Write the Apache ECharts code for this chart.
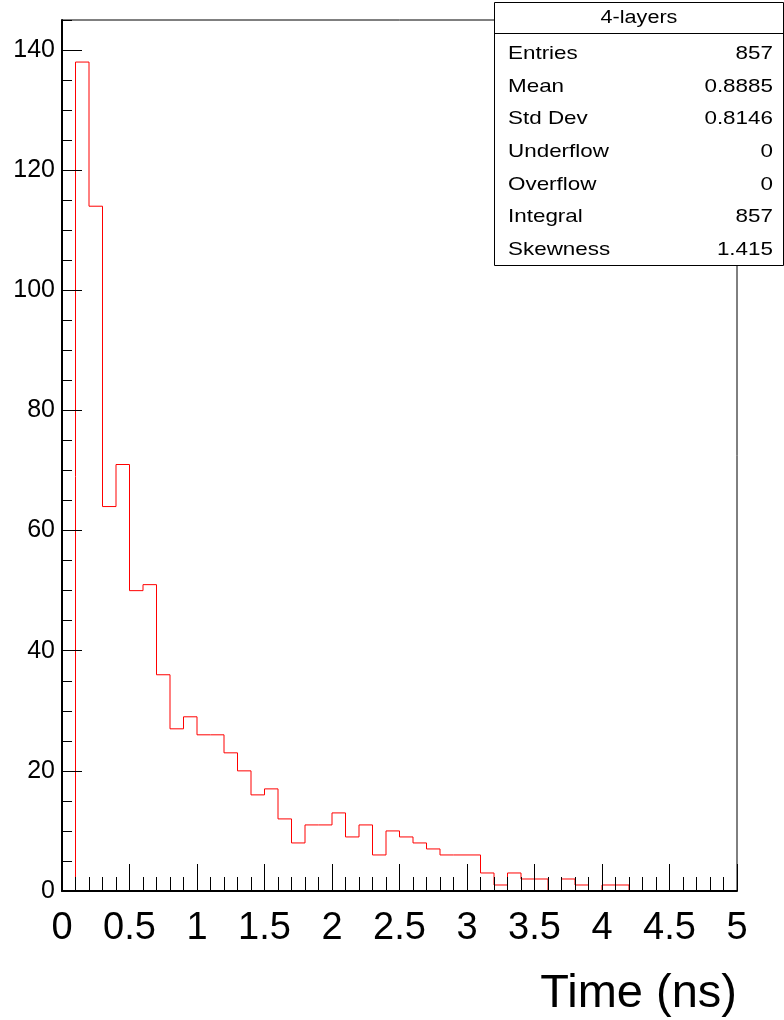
<!DOCTYPE html>
<html>
<head>
<meta charset="utf-8">
<script src="https://cdn.jsdelivr.net/npm/echarts@6/dist/echarts.min.js"></script>
<style>
html,body{margin:0;padding:0;background:#fff;}
#chart{width:784px;height:1020px;}
</style>
</head>
<body>
<div id="chart"></div>
<script>
// ---- data ----
var binStart = 0;
var binWidth = 0.1;
var counts = [0, 138, 114, 64, 71, 50, 51, 36, 27, 29,
              26, 26, 23, 20, 16, 17, 12, 8, 11, 11,
              13, 9, 11, 6, 10, 9, 8, 7, 6, 6,
              6, 3, 1, 3, 2, 2, 0, 2, 1, 0,
              1, 1, 0, 0, 0, 0, 0, 0, 0, 0];
var xTicks = [0, 0.5, 1, 1.5, 2, 2.5, 3, 3.5, 4, 4.5, 5];
var yTicks = [0, 20, 40, 60, 80, 100, 120, 140];
var yMinorTicks = [5, 10, 15, 25, 30, 35, 45, 50, 55, 65, 70, 75, 85, 90, 95,
                   105, 110, 115, 125, 130, 135, 145];
var statsTitle = '4-layers';
var statLabels = ['Entries', 'Mean', 'Std Dev', 'Underflow', 'Overflow', 'Integral', 'Skewness'];
var statValues = ['857', '0.8885', '0.8146', '0', '0', '857', '1.415'];
var xTitle = 'Time (ns)';

// ---- build step points (lower bin edges + final upper edge) ----
var points = [];
for (var i = 0; i < counts.length; i++) {
  points.push([+(binStart + i * binWidth).toFixed(4), counts[i]]);
}
points.push([+(binStart + counts.length * binWidth).toFixed(4), counts[counts.length - 1]]);

var FONT = 'Liberation Sans';
var chart = echarts.init(document.getElementById('chart'), null, {renderer: 'canvas'});

var graphics = [];
var boxL = 494.5, boxT = 2.5, boxW = 289, boxH = 263;
graphics.push({type: 'rect', z: 100, shape: {x: boxL, y: boxT, width: boxW, height: boxH},
  style: {fill: '#fff', stroke: '#000', lineWidth: 1}});
graphics.push({type: 'line', z: 101, shape: {x1: boxL, y1: 33.5, x2: boxL + boxW, y2: 33.5},
  style: {stroke: '#000', lineWidth: 1}});
graphics.push({type: 'text', z: 102, x: 639, y: 18.5, scaleX: 1.2,
  style: {text: statsTitle, font: '18px "' + FONT + '"', fill: '#000', align: 'center', verticalAlign: 'middle'}});
for (var r = 0; r < statLabels.length; r++) {
  var cy = 54 + 32.6 * r;
  graphics.push({type: 'text', z: 102, x: 508, y: cy, scaleX: 1.18,
    style: {text: statLabels[r], font: '19px "' + FONT + '"', fill: '#000', align: 'left', verticalAlign: 'middle'}});
  graphics.push({type: 'text', z: 102, x: 773, y: cy, scaleX: 1.18,
    style: {text: statValues[r], font: '19px "' + FONT + '"', fill: '#000', align: 'right', verticalAlign: 'middle'}});
}
graphics.push({type: 'text', z: 102, x: 737, y: 994,
  style: {text: xTitle, font: '47px "' + FONT + '"', fill: '#000', align: 'right', verticalAlign: 'middle'}});

var option = {
  animation: false,
  backgroundColor: '#fff',
  textStyle: {fontFamily: FONT},
  grid: {left: 62, top: 20, width: 675, height: 871, show: true, borderColor: '#000', borderWidth: 1,
         backgroundColor: 'transparent', containLabel: false, outerBoundsMode: 'none'},
  xAxis: {
    type: 'value', min: 0, max: 5, interval: 0.5, z: 10,
    axisLine: {show: true, onZero: false, lineStyle: {color: '#000', width: 2}},
    axisTick: {show: true, inside: true, length: 27, lineStyle: {color: '#000', width: 1}},
    minorTick: {show: true, splitNumber: 5, length: 14, lineStyle: {color: '#000', width: 1}},
    axisLabel: {show: true, margin: 19, fontSize: 38, color: '#000', fontFamily: FONT,
                customValues: xTicks, formatter: function (v) { return String(v); }},
    splitLine: {show: false}, minorSplitLine: {show: false}
  },
  yAxis: [{
    type: 'value', min: 0, max: 145, z: 10, position: 'left',
    axisLine: {show: true, onZero: false, lineStyle: {color: '#000', width: 2}},
    axisTick: {show: true, inside: true, length: 20, customValues: yTicks, lineStyle: {color: '#000', width: 1}},
    axisLabel: {show: true, margin: 7, fontSize: 25, color: '#000', fontFamily: FONT,
                customValues: yTicks, padding: [5, 0, 0, 0]},
    splitLine: {show: false}
  }, {
    type: 'value', min: 0, max: 145, z: 10, position: 'left', offset: 0,
    axisLine: {show: false},
    axisTick: {show: true, inside: true, length: 10, customValues: yMinorTicks, lineStyle: {color: '#000', width: 1}},
    axisLabel: {show: false},
    splitLine: {show: false}
  }],
  series: [{
    type: 'line', step: 'end', data: points, xAxisIndex: 0, yAxisIndex: 0,
    showSymbol: false, symbol: 'none', z: 2,
    lineStyle: {color: '#ff0000', width: 1}, clip: true
  }],
  graphic: graphics
};
chart.setOption(option);
</script>
</body>
</html>
